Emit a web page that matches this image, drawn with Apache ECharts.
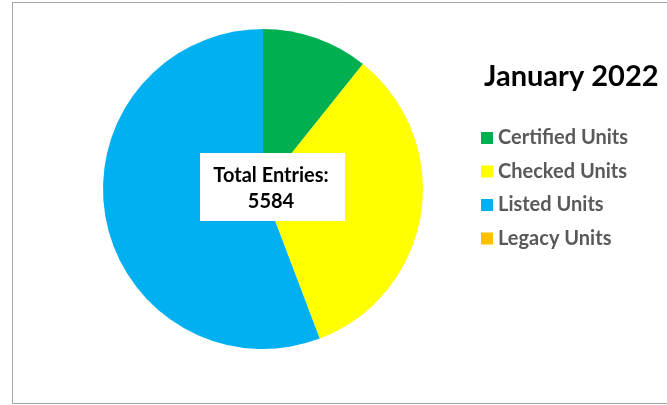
<!DOCTYPE html>
<html><head><meta charset="utf-8">
<script src="https://cdn.jsdelivr.net/npm/echarts@6/dist/echarts.min.js"></script>
<style>html,body{margin:0;padding:0;background:#fff}#c{width:667px;height:405px}</style>
</head><body><div id="c"></div>
<script>
const categories = ['Certified Units', 'Checked Units', 'Listed Units', 'Legacy Units'];
const values = [600, 1870, 3114, 0];
const colors = ['#00B050', '#FFFF00', '#00B0F0', '#FFC000'];
const titleText = 'January 2022';
const totalLabel = 'Total Entries:';
const totalValue = 5584;

const chart = echarts.init(document.getElementById('c'), null, {renderer: 'canvas'});
const FONT = 'Lato, "Open Sans", sans-serif';
chart.setOption({
  animation: false,
  backgroundColor: '#fff',
  title: {
    text: titleText, left: 484, top: 62, padding: 0,
    textStyle: {fontFamily: FONT, fontWeight: 'bold', fontSize: 29, color: '#000'}
  },
  legend: {
    orient: 'vertical', left: 481, top: 128, padding: 0,
    itemWidth: 12, itemHeight: 12, itemGap: 13.5, itemTextGap: 6,
    icon: 'rect',
    textStyle: {fontFamily: FONT, fontWeight: 'bold', fontSize: 20, color: '#595959', lineHeight: 20},
    data: categories
  },
  graphic: [
    {type: 'rect', shape: {x: 12.5, y: 2.5, width: 700, height: 401}, style: {fill: null, stroke: '#A6A6A6', lineWidth: 1}, silent: true, z: 0},
    {type: 'rect', shape: {x: 200, y: 153, width: 145, height: 68}, style: {fill: '#fff'}, z: 10},
    {type: 'text', x: 271, y: 176, style: {text: totalLabel, align: 'center', verticalAlign: 'middle', font: 'bold 20px ' + FONT, fill: '#000'}, z: 11},
    {type: 'text', x: 271, y: 202, style: {text: String(totalValue), align: 'center', verticalAlign: 'middle', font: 'bold 20px ' + FONT, fill: '#000'}, z: 11}
  ],
  series: [{
    type: 'pie',
    center: [263, 189], radius: 160,
    startAngle: 90, clockwise: true,
    label: {show: false}, labelLine: {show: false},
    emphasis: {disabled: true},
    itemStyle: {borderWidth: 0},
    data: categories.map((n, i) => ({name: n, value: values[i], itemStyle: {color: colors[i]}}))
  }]
});
</script></body></html>
